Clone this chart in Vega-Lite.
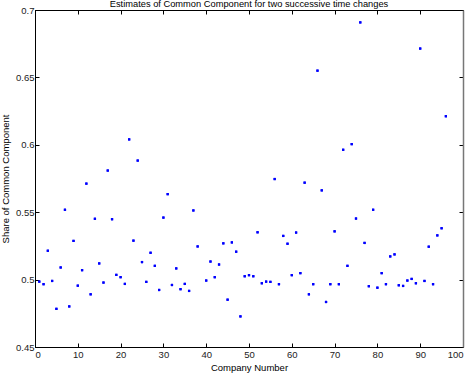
{
  "$schema": "https://vega.github.io/schema/vega-lite/v6.json",
  "width": 428,
  "height": 337,
  "autosize": {"type": "none"},
  "padding": {"left": 35, "top": 10, "right": 9, "bottom": 28},
  "background": "white",
  "title": {"text": "Estimates of Common Component for two successive time changes", "font": "Liberation Sans", "fontSize": 9.3, "fontWeight": "normal", "color": "#000", "offset": -4},
  "config": {
    "view": {"stroke": "#000", "strokeWidth": 1},
    "axis": {"grid": false, "labelFont": "Liberation Sans", "titleFont": "Liberation Sans", "labelFontSize": 9.5, "titleFontSize": 9.5, "titleFontWeight": "normal", "labelColor": "#222", "titleColor": "#000", "domainColor": "#000", "tickColor": "#000", "tickSize": -4, "domainWidth": 1, "tickWidth": 1}
  },
  "data": {"values": [
    {"company": 1, "share": 0.4985}, {"company": 2, "share": 0.4966}, {"company": 3, "share": 0.5214}, {"company": 4, "share": 0.499},
    {"company": 5, "share": 0.4783}, {"company": 6, "share": 0.509}, {"company": 7, "share": 0.5518}, {"company": 8, "share": 0.4801},
    {"company": 9, "share": 0.5287}, {"company": 10, "share": 0.4955}, {"company": 11, "share": 0.507}, {"company": 12, "share": 0.5712},
    {"company": 13, "share": 0.4891}, {"company": 14, "share": 0.5451}, {"company": 15, "share": 0.512}, {"company": 16, "share": 0.4978},
    {"company": 17, "share": 0.5809}, {"company": 18, "share": 0.5448}, {"company": 19, "share": 0.5035}, {"company": 20, "share": 0.5018},
    {"company": 21, "share": 0.4968}, {"company": 22, "share": 0.604}, {"company": 23, "share": 0.5289}, {"company": 24, "share": 0.5883},
    {"company": 25, "share": 0.513}, {"company": 26, "share": 0.4983}, {"company": 27, "share": 0.5199}, {"company": 28, "share": 0.5102},
    {"company": 29, "share": 0.4923}, {"company": 30, "share": 0.546}, {"company": 31, "share": 0.5634}, {"company": 32, "share": 0.496},
    {"company": 33, "share": 0.5083}, {"company": 34, "share": 0.4929}, {"company": 35, "share": 0.4968}, {"company": 36, "share": 0.4916},
    {"company": 37, "share": 0.5513}, {"company": 38, "share": 0.5246}, {"company": 40, "share": 0.4993}, {"company": 41, "share": 0.5134},
    {"company": 42, "share": 0.5018}, {"company": 43, "share": 0.5112}, {"company": 44, "share": 0.5269}, {"company": 45, "share": 0.4851},
    {"company": 46, "share": 0.5276}, {"company": 47, "share": 0.5207}, {"company": 48, "share": 0.4727}, {"company": 49, "share": 0.5025},
    {"company": 50, "share": 0.5033}, {"company": 51, "share": 0.5025}, {"company": 52, "share": 0.5351}, {"company": 53, "share": 0.4973},
    {"company": 54, "share": 0.4985}, {"company": 55, "share": 0.4983}, {"company": 56, "share": 0.5746}, {"company": 57, "share": 0.4966},
    {"company": 58, "share": 0.5324}, {"company": 59, "share": 0.5266}, {"company": 60, "share": 0.5033}, {"company": 61, "share": 0.5349},
    {"company": 62, "share": 0.5048}, {"company": 63, "share": 0.5719}, {"company": 64, "share": 0.4891}, {"company": 65, "share": 0.4966},
    {"company": 66, "share": 0.655}, {"company": 67, "share": 0.5662}, {"company": 68, "share": 0.4834}, {"company": 69, "share": 0.4966},
    {"company": 70, "share": 0.5358}, {"company": 71, "share": 0.4966}, {"company": 72, "share": 0.5963}, {"company": 73, "share": 0.5102},
    {"company": 74, "share": 0.6005}, {"company": 75, "share": 0.5453}, {"company": 76, "share": 0.6908}, {"company": 77, "share": 0.5272},
    {"company": 78, "share": 0.4951}, {"company": 79, "share": 0.5518}, {"company": 80, "share": 0.494}, {"company": 81, "share": 0.5048},
    {"company": 82, "share": 0.4966}, {"company": 83, "share": 0.5172}, {"company": 84, "share": 0.5187}, {"company": 85, "share": 0.4958},
    {"company": 86, "share": 0.4953}, {"company": 87, "share": 0.4993}, {"company": 88, "share": 0.5005}, {"company": 89, "share": 0.4973},
    {"company": 90, "share": 0.6714}, {"company": 91, "share": 0.499}, {"company": 92, "share": 0.5244}, {"company": 93, "share": 0.4966},
    {"company": 94, "share": 0.5328}, {"company": 95, "share": 0.5381}, {"company": 96, "share": 0.6212}
  ]},
  "layer": [
    {
      "mark": {"type": "square", "size": 5, "filled": true, "color": "#0000ff", "opacity": 1},
      "encoding": {
        "x": {"field": "company", "type": "quantitative", "scale": {"domain": [0, 100], "nice": false, "zero": false},
              "axis": {"orient": "bottom", "title": "Company Number", "values": [0, 10, 20, 30, 40, 50, 60, 70, 80, 90, 100], "labelPadding": 6, "titlePadding": 4}},
        "y": {"field": "share", "type": "quantitative", "scale": {"domain": [0.45, 0.7], "nice": false, "zero": false},
              "axis": {"orient": "left", "title": "Share of Common Component", "values": [0.45, 0.5, 0.55, 0.6, 0.65, 0.7], "format": "~g", "labelPadding": 5, "titlePadding": 5}}
      }
    },
    {
      "mark": {"type": "square", "size": 5, "filled": true, "color": "#0000ff", "opacity": 1},
      "encoding": {
        "x": {"field": "company", "type": "quantitative", "scale": {"domain": [0, 100], "nice": false, "zero": false},
              "axis": {"orient": "top", "title": null, "labels": false, "values": [0, 10, 20, 30, 40, 50, 60, 70, 80, 90, 100]}},
        "y": {"field": "share", "type": "quantitative", "scale": {"domain": [0.45, 0.7], "nice": false, "zero": false},
              "axis": {"orient": "right", "title": null, "labels": false, "values": [0.45, 0.5, 0.55, 0.6, 0.65, 0.7], "domainColor": "#777", "domainWidth": 1.5}}
      }
    }
  ],
  "resolve": {"axis": {"x": "independent", "y": "independent"}}
}
